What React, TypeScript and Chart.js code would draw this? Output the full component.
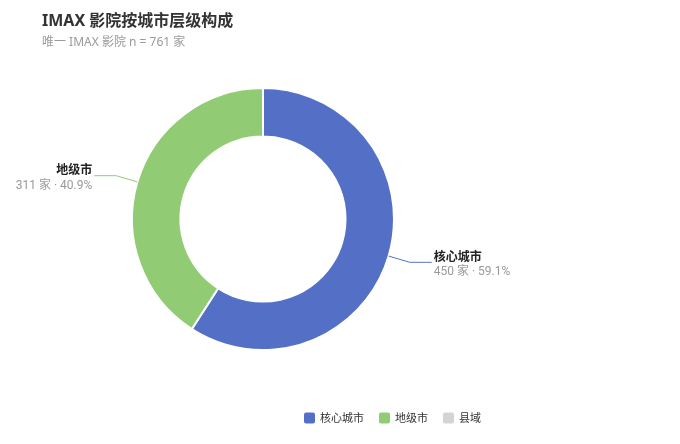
import { useEffect, useRef } from 'react';
import { Chart, registerables, Plugin } from 'chart.js';

Chart.register(...registerables);

const categories = ['核心城市', '地级市', '县域'];
const cinemaCounts = [450, 311, 0];
const sliceColors = ['#5470c6', '#91cc75', '#d4d4d4'];
const titleText = 'IMAX 影院按城市层级构成';
const subtitleText = '唯一 IMAX 影院 n = 761 家';
const unit = '家';

const FONT = '"Noto Sans", "Noto Sans CJK SC", sans-serif';
const NUM_FONT = 'Roboto, "Noto Sans CJK SC", sans-serif';
const CJK_FONT = '"Noto Sans CJK SC", sans-serif';

// title + subtitle in the top left corner
const headerPlugin: Plugin<'doughnut'> = {
  id: 'header',
  afterDraw(chart) {
    const ctx = chart.ctx;
    ctx.save();
    ctx.textBaseline = 'middle';
    ctx.textAlign = 'left';
    ctx.fillStyle = '#333';
    ctx.font = `bold 16px ${FONT}`;
    ctx.fillText(titleText, 42, 21);
    ctx.fillStyle = '#999';
    ctx.font = `12px ${FONT}`;
    ctx.fillText(subtitleText, 42, 43);
    ctx.restore();
  },
};

// outside labels with leader lines
const sliceLabels: Plugin<'doughnut'> = {
  id: 'sliceLabels',
  afterDatasetsDraw(chart) {
    const ctx = chart.ctx;
    const meta = chart.getDatasetMeta(0);
    const data = chart.data.datasets[0].data as number[];
    const total = data.reduce((a, b) => a + b, 0);
    meta.data.forEach((el, i) => {
      const v = data[i];
      if (!v) return;
      const { x, y, startAngle, endAngle, outerRadius } = el.getProps(
        ['x', 'y', 'startAngle', 'endAngle', 'outerRadius'],
        true
      ) as any;
      const mid = (startAngle + endAngle) / 2;
      const cos = Math.cos(mid);
      const sin = Math.sin(mid);
      const x0 = x + cos * outerRadius;
      const y0 = y + sin * outerRadius;
      const x1 = x + cos * (outerRadius + 22);
      const y1 = y + sin * (outerRadius + 22);
      const right = cos >= 0;
      const x2 = x1 + (right ? 22 : -22);

      ctx.save();
      ctx.strokeStyle = sliceColors[i];
      ctx.lineWidth = 1;
      ctx.beginPath();
      ctx.moveTo(x0, y0);
      ctx.lineTo(x1, y1);
      ctx.lineTo(x2, y1);
      ctx.stroke();

      const tx = right ? x2 + 2 : x2 - 2;
      ctx.textAlign = right ? 'left' : 'right';
      ctx.textBaseline = 'middle';
      ctx.fillStyle = '#222';
      ctx.font = `bold 12px ${CJK_FONT}`;
      ctx.fillText(categories[i], tx, y1 - 6);
      ctx.fillStyle = '#999';
      ctx.font = `12px ${NUM_FONT}`;
      const pct = ((v / total) * 100).toFixed(1);
      ctx.fillText(`${v} ${unit} · ${pct}%`, tx, y1 + 10);
      ctx.restore();
    });
  },
};

// legend at the bottom
const legendPlugin: Plugin<'doughnut'> = {
  id: 'bottomLegend',
  afterDraw(chart) {
    const ctx = chart.ctx;
    ctx.save();
    ctx.font = `11px ${CJK_FONT}`;
    ctx.textBaseline = 'middle';
    ctx.textAlign = 'left';
    let cx = 304;
    const cy = 418;
    categories.forEach((name, i) => {
      ctx.fillStyle = sliceColors[i];
      ctx.beginPath();
      ctx.roundRect(cx, cy - 5.5, 11, 11, 2);
      ctx.fill();
      ctx.fillStyle = '#333';
      ctx.fillText(name, cx + 16, cy);
      cx += 16 + ctx.measureText(name).width + 15;
    });
    ctx.restore();
  },
};

const App = () => {
  const canvasRef = useRef<HTMLCanvasElement>(null);
  const chartRef = useRef<Chart<'doughnut'> | null>(null);

  useEffect(() => {
    if (!canvasRef.current) return;
    if (chartRef.current) chartRef.current.destroy();

    chartRef.current = new Chart(canvasRef.current, {
      type: 'doughnut',
      data: {
        labels: categories,
        datasets: [
          {
            data: cinemaCounts,
            backgroundColor: sliceColors,
            borderColor: '#fff',
            borderWidth: 2,
            hoverOffset: 0,
          },
        ],
      },
      options: {
        responsive: false,
        animation: false,
        cutout: '63%',
        layout: { padding: { left: 131, right: 285, top: 87, bottom: 93 } },
        plugins: {
          legend: { display: false },
          tooltip: { enabled: false },
        },
      },
      plugins: [headerPlugin, sliceLabels, legendPlugin],
    });

    return () => {
      if (chartRef.current) {
        chartRef.current.destroy();
        chartRef.current = null;
      }
    };
  }, []);

  return (
    <div style={{ position: 'absolute', left: 0, top: 0, width: 680, height: 444, background: '#fff' }}>
      <canvas ref={canvasRef} width={680} height={444} style={{ width: 680, height: 444 }} />
    </div>
  );
};

export default App;
